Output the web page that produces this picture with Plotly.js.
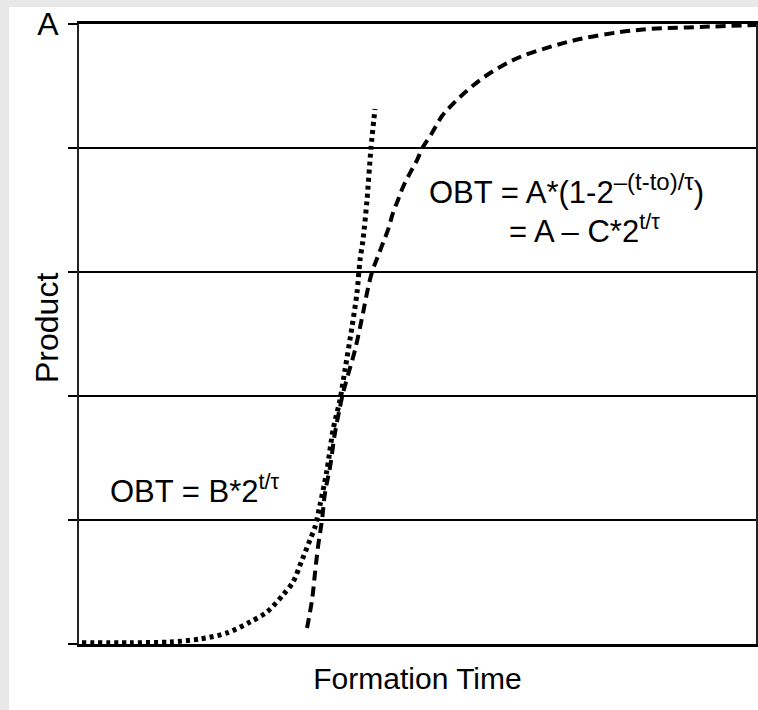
<!DOCTYPE html>
<html>
<head>
<meta charset="utf-8">
<script src="https://cdn.plot.ly/plotly-3.0.1.min.js"></script>
<style>
  html, body { margin: 0; padding: 0; background: #e8e8e8; width: 758px; height: 710px; overflow: hidden; }
  #chart { position: absolute; left: 9px; top: 7px; width: 749px; height: 703px; }
</style>
</head>
<body>
<div id="chart"></div>
<script>
// Early phase: exponential growth OBT = B*2^(t/τ) (dotted)
const expTime  = [0.44, 7.53, 13.44, 17.87, 21.86, 25.26, 27.77, 30.13, 31.61, 32.94, 34.12, 34.86, 35.60, 36.63, 37.52, 38.55, 39.29, 40.32, 41.06, 41.51, 41.95, 42.54, 43.13, 43.72];
const expValue = [0.01, 0.01, 0.016, 0.040, 0.089, 0.177, 0.258, 0.395, 0.500, 0.677, 0.839, 0.944, 1.121, 1.403, 1.726, 1.968, 2.210, 2.556, 2.831, 3.097, 3.258, 3.581, 4.000, 4.315];

// Late phase: saturation OBT = A*(1-2^-((t-to)/τ)) (dashed)
const satTime  = [33.68, 34.42, 34.86, 35.30, 35.89, 36.34, 37.08, 37.81, 38.55, 39.00, 39.73, 40.77, 41.80, 42.54, 43.28, 44.17, 44.90, 45.64, 46.38, 47.12, 47.86, 48.89, 49.93, 50.81, 52.14, 53.62, 54.80, 56.28, 59.23, 62.19, 65.14, 69.57, 74.00, 79.91, 84.34, 91.73, 100];
const satValue = [0.129, 0.355, 0.573, 0.782, 1.000, 1.218, 1.427, 1.702, 1.911, 2.024, 2.169, 2.371, 2.629, 2.831, 3.000, 3.129, 3.234, 3.339, 3.476, 3.581, 3.685, 3.798, 3.903, 4.008, 4.121, 4.258, 4.331, 4.411, 4.548, 4.653, 4.734, 4.815, 4.879, 4.935, 4.960, 4.976, 4.992];

const yTickVals = [0, 1, 2, 3, 4, 5];
const yTickText = ['', '', '', '', '', 'A'];

const FONT = '"Liberation Sans", Arial, sans-serif';
const FS = 31;

const traces = [
  { x: expTime, y: expValue, type: 'scatter', mode: 'lines', hoverinfo: 'skip',
    line: { color: '#000', width: 5, dash: '4px,4px', shape: 'spline', smoothing: 0.8 } },
  { x: satTime, y: satValue, type: 'scatter', mode: 'lines', hoverinfo: 'skip',
    line: { color: '#000', width: 4, dash: '10px,6px', shape: 'spline', smoothing: 1 } }
];

const layout = {
  width: 749, height: 703,
  margin: { l: 70, r: 2, t: 17, b: 66, pad: 0 },
  paper_bgcolor: '#ffffff', plot_bgcolor: '#ffffff',
  showlegend: false,
  font: { family: FONT, size: FS, color: '#000' },
  xaxis: {
    range: [0, 100], showgrid: false, zeroline: false,
    showticklabels: false, ticks: '',
    showline: true, linecolor: '#000', linewidth: 3, mirror: true,
    title: { text: 'Formation Time', font: { family: FONT, size: 30, color: '#000' }, standoff: 22 }
  },
  yaxis: {
    range: [0, 5], tickvals: yTickVals, ticktext: yTickText,
    showgrid: true, gridcolor: '#000', gridwidth: 2, zeroline: false,
    ticks: 'outside', ticklen: 9, tickwidth: 2, tickcolor: '#000',
    ticklabelstandoff: 3, ticklabeloverflow: 'allow',
    showline: true, linecolor: '#222', linewidth: 2, mirror: true,
    tickfont: { family: FONT, size: 32, color: '#000' }
  },
  annotations: [
    { xref: 'paper', yref: 'paper', x: -0.047, y: 0.51, text: 'Product', textangle: -90,
      showarrow: false, xanchor: 'center', yanchor: 'middle', font: { family: FONT, size: 32, color: '#000' } },
    { xref: 'x', yref: 'y', x: 4.28, y: 1.25, text: 'OBT = B*2<sup>t/τ</sup>',
      showarrow: false, xanchor: 'left', yanchor: 'middle', font: { family: FONT, size: FS, color: '#000' } },
    { xref: 'x', yref: 'y', x: 51.4, y: 3.67, text: 'OBT = A*(1-2<sup><span style="font-size:24px">–(t-to)/τ</span></sup>)',
      showarrow: false, xanchor: 'left', yanchor: 'middle', font: { family: FONT, size: FS, color: '#000' } },
    { xref: 'x', yref: 'y', x: 63.2, y: 3.35, text: '= A – C*2<sup>t/τ</sup>',
      showarrow: false, xanchor: 'left', yanchor: 'middle', font: { family: FONT, size: FS, color: '#000' } }
  ]
};

Plotly.newPlot('chart', traces, layout, { displayModeBar: false, staticPlot: true });
</script>
</body>
</html>
